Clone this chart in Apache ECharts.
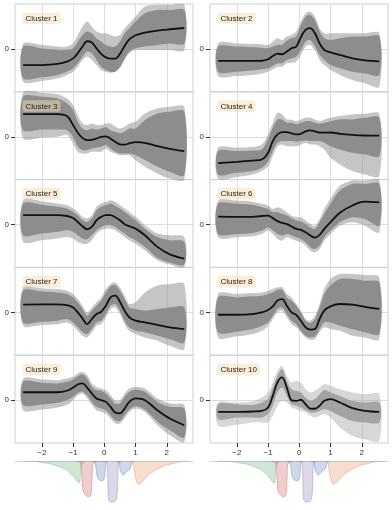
<!DOCTYPE html>
<html>
<head>
<meta charset="utf-8"/>
<title>Clusters</title>
<script src="https://cdn.jsdelivr.net/npm/echarts@6.0.0/dist/echarts.min.js"></script>
<style>
    html, body { margin: 0; padding: 0; background: #fff; }
    #main { width: 392px; height: 510px; }
</style>
</head>
<body>
<div id="main"></div>
<script>
// sample positions along x (shared by every panel)
var xs = [-2.6, -2.0, -1.5, -1.2, -1.0, -0.85, -0.7, -0.55, -0.4, -0.25, -0.1, 0.05, 0.2, 0.35, 0.5, 0.65, 0.8, 1.0, 1.3, 1.7, 2.1, 2.56];
var xTicks = [-2, -1, 0, 1, 2];

// cluster 1
var mean1 = [-0.75,-0.75,-0.70,-0.59,-0.44,-0.20,0.11,0.36,0.30,0.03,-0.23,-0.39,-0.45,-0.45,-0.23,0.14,0.45,0.64,0.76,0.86,0.92,0.98];
var coreHi1 = [0.11,0.03,-0.05,-0.05,0.03,0.34,0.65,0.81,0.73,0.50,0.34,0.19,0.11,0.11,0.34,0.73,0.97,1.28,1.67,1.82,1.82,1.82];
var coreLo1 = [-1.37,-1.32,-1.21,-1.06,-0.90,-0.67,-0.36,-0.12,-0.20,-0.51,-0.83,-0.98,-1.06,-1.06,-0.83,-0.44,-0.12,0.03,0.11,0.19,0.26,0.26];
var outHi1 = [0.23,0.19,0.11,0.11,0.26,0.65,1.04,1.28,1.04,0.81,0.73,0.73,0.65,0.58,0.65,0.97,1.20,1.51,1.98,2.06,2.06,2.06];
var outLo1 = [-1.53,-1.50,-1.37,-1.21,-1.06,-0.83,-0.51,-0.36,-0.51,-0.75,-0.98,-1.06,-1.11,-1.06,-0.90,-0.51,-0.20,-0.05,-0.05,-0.05,-0.05,-0.05];
// cluster 2
var mean2 = [-0.56,-0.56,-0.56,-0.55,-0.48,-0.33,-0.22,-0.25,-0.12,0.03,0.11,0.55,0.89,0.97,0.73,0.26,-0.05,-0.16,-0.28,-0.44,-0.53,-0.58];
var coreHi2 = [0.11,0.11,0.08,0.06,0.03,0.11,0.19,0.19,0.39,0.50,0.58,1.12,1.51,1.59,1.36,0.81,0.50,0.42,0.50,0.58,0.58,0.58];
var coreLo2 = [-1.06,-1.06,-1.01,-0.95,-0.90,-0.79,-0.67,-0.67,-0.51,-0.44,-0.36,-0.05,0.34,0.42,0.11,-0.28,-0.51,-0.75,-0.90,-1.06,-1.14,-1.21];
var outHi2 = [0.26,0.26,0.23,0.22,0.19,0.34,0.50,0.42,0.58,0.65,0.81,1.28,1.67,1.74,1.51,0.97,0.73,0.73,0.73,0.73,0.73,0.73];
var outLo2 = [-1.26,-1.26,-1.21,-1.14,-1.06,-0.95,-0.83,-0.83,-0.67,-0.64,-0.59,-0.28,0.11,0.19,-0.05,-0.51,-0.75,-0.98,-1.21,-1.45,-1.60,-1.76];
// cluster 3
var mean3 = [1.06,1.06,1.06,0.97,0.55,0.19,-0.05,-0.16,-0.14,-0.08,0.00,0.02,-0.09,-0.23,-0.36,-0.37,-0.31,-0.25,-0.28,-0.44,-0.56,-0.67];
var coreHi3 = [1.87,1.87,1.79,1.56,1.25,0.70,0.39,0.31,0.39,0.34,0.39,0.44,0.31,0.23,0.16,0.23,0.39,0.39,0.78,1.09,1.17,1.17];
var coreLo3 = [0.31,0.34,0.34,0.31,0.00,-0.47,-0.62,-0.62,-0.55,-0.50,-0.47,-0.39,-0.55,-0.70,-0.78,-0.78,-0.78,-0.86,-1.09,-1.40,-1.64,-1.79];
var outHi3 = [2.06,2.06,1.99,1.79,1.48,1.01,0.62,0.55,0.62,0.55,0.55,0.62,0.62,0.47,0.39,0.47,0.62,0.70,1.09,1.32,1.40,1.40];
var outLo3 = [-0.08,-0.03,0.00,0.08,-0.31,-0.70,-0.78,-0.78,-0.70,-0.70,-0.70,-0.55,-0.70,-0.78,-0.86,-0.86,-0.86,-1.09,-1.40,-1.71,-1.95,-2.00];
// cluster 4
var mean4 = [-1.23,-1.17,-1.11,-1.06,-0.75,-0.20,0.11,0.22,0.22,0.16,0.11,0.14,0.25,0.30,0.25,0.20,0.19,0.20,0.14,0.09,0.06,0.05];
var coreHi4 = [-0.67,-0.67,-0.64,-0.59,-0.12,0.42,0.81,0.81,0.65,0.65,0.58,0.65,0.73,0.73,0.65,0.61,0.65,0.73,0.81,0.81,0.89,0.89];
var coreLo4 = [-1.76,-1.68,-1.60,-1.45,-1.14,-0.67,-0.28,-0.20,-0.20,-0.20,-0.23,-0.20,-0.17,-0.20,-0.20,-0.20,-0.28,-0.44,-0.59,-0.75,-0.83,-0.90];
var outHi4 = [-0.51,-0.51,-0.48,-0.36,0.11,0.65,1.12,1.04,0.81,0.81,0.73,0.81,0.89,0.89,0.81,0.73,0.81,0.89,0.97,1.04,1.07,1.07];
var outLo4 = [-1.95,-1.88,-1.76,-1.60,-1.37,-0.90,-0.44,-0.36,-0.44,-0.44,-0.44,-0.36,-0.28,-0.36,-0.36,-0.44,-0.59,-0.98,-1.29,-1.60,-1.76,-1.84];
// cluster 5
var mean5 = [0.44,0.44,0.44,0.40,0.31,0.12,-0.08,-0.22,-0.11,0.20,0.36,0.44,0.44,0.34,0.20,0.02,-0.08,-0.19,-0.50,-1.04,-1.39,-1.59];
var coreHi5 = [0.98,0.93,0.83,0.75,0.59,0.44,0.20,0.12,0.28,0.67,0.83,0.90,0.98,0.87,0.75,0.59,0.44,0.20,-0.19,-0.58,-0.73,-0.81];
var coreLo5 = [-0.50,-0.42,-0.34,-0.26,-0.34,-0.50,-0.65,-0.69,-0.50,-0.26,-0.11,-0.03,-0.03,-0.11,-0.26,-0.42,-0.58,-0.73,-1.04,-1.56,-1.78,-1.87];
var outHi5 = [1.14,1.09,0.98,0.90,0.75,0.59,0.36,0.28,0.44,0.83,0.98,1.06,1.14,1.06,0.90,0.75,0.59,0.36,-0.03,-0.42,-0.50,-0.58];
var outLo5 = [-0.81,-0.73,-0.65,-0.58,-0.65,-0.81,-0.89,-0.89,-0.73,-0.42,-0.26,-0.19,-0.19,-0.26,-0.42,-0.58,-0.73,-0.89,-1.20,-1.67,-1.87,-1.98];
// cluster 6
var mean6 = [0.37,0.36,0.36,0.40,0.42,0.30,0.16,0.08,0.02,-0.09,-0.20,-0.25,-0.36,-0.51,-0.61,-0.48,-0.20,0.11,0.55,0.89,1.07,1.04];
var coreHi6 = [0.97,0.97,0.92,0.81,0.73,0.58,0.58,0.50,0.42,0.30,0.19,0.14,0.03,-0.12,-0.20,0.11,0.50,0.97,1.59,1.90,1.90,1.90];
var coreLo6 = [-0.44,-0.44,-0.39,-0.28,-0.12,-0.28,-0.44,-0.51,-0.44,-0.51,-0.59,-0.67,-0.83,-1.06,-1.14,-0.98,-0.59,-0.28,0.11,0.34,0.26,-0.05];
var outHi6 = [1.12,1.12,1.07,0.97,0.89,0.73,0.81,0.73,0.58,0.42,0.34,0.34,0.19,0.03,-0.05,0.26,0.73,1.20,1.82,2.06,2.06,2.06];
var outLo6 = [-0.59,-0.59,-0.55,-0.44,-0.28,-0.44,-0.67,-0.75,-0.59,-0.67,-0.75,-0.83,-0.98,-1.21,-1.29,-1.14,-0.75,-0.44,-0.05,0.11,-0.05,-0.36];
// cluster 7
var mean7 = [0.36,0.37,0.37,0.34,0.23,0.00,-0.28,-0.55,-0.31,-0.08,0.03,0.31,0.70,0.78,0.50,0.08,-0.23,-0.39,-0.47,-0.58,-0.70,-0.78];
var coreHi7 = [1.01,0.97,0.93,0.86,0.70,0.47,0.16,-0.16,0.08,0.31,0.55,0.93,1.21,1.28,1.01,0.62,0.23,0.16,0.08,0.16,0.23,0.23];
var coreLo7 = [-0.47,-0.44,-0.39,-0.31,-0.47,-0.70,-0.93,-1.01,-0.78,-0.47,-0.39,-0.08,0.31,0.39,0.08,-0.39,-0.70,-0.86,-0.93,-1.09,-1.25,-1.40];
var outHi7 = [1.17,1.12,1.09,1.01,0.86,0.62,0.31,0.00,0.23,0.47,0.70,1.09,1.32,1.40,1.17,0.78,0.39,0.47,0.93,1.25,1.32,1.32];
var outLo7 = [-0.62,-0.59,-0.55,-0.47,-0.62,-0.86,-1.09,-1.17,-0.93,-0.62,-0.55,-0.23,0.16,0.23,-0.08,-0.55,-0.86,-1.01,-1.17,-1.32,-1.56,-1.71];
// cluster 8
var mean8 = [-0.11,-0.11,-0.08,0.00,0.11,0.28,0.55,0.62,0.31,0.00,-0.12,-0.39,-0.70,-0.81,-0.78,-0.31,0.08,0.28,0.39,0.36,0.26,0.16];
var coreHi8 = [0.70,0.70,0.75,0.78,0.86,0.93,1.06,1.06,0.70,0.55,0.31,0.00,-0.39,-0.50,-0.31,0.23,0.86,1.25,1.56,1.56,1.48,1.40];
var coreLo8 = [-0.93,-0.90,-0.78,-0.62,-0.47,-0.16,0.16,0.23,-0.08,-0.39,-0.55,-0.86,-1.09,-1.17,-1.12,-0.78,-0.47,-0.47,-0.62,-0.78,-0.93,-1.01];
var outHi8 = [0.86,0.86,0.90,0.93,1.01,1.09,1.17,1.17,0.86,0.70,0.39,0.08,-0.31,-0.39,-0.16,0.39,1.09,1.56,1.79,1.79,1.74,1.64];
var outLo8 = [-1.17,-1.12,-1.01,-0.86,-0.62,-0.31,0.00,0.08,-0.23,-0.55,-0.70,-0.93,-1.17,-1.28,-1.25,-0.93,-0.70,-0.78,-0.86,-1.09,-1.17,-1.25];
// cluster 9
var mean9 = [0.37,0.37,0.37,0.44,0.59,0.73,0.78,0.59,0.31,0.08,0.00,-0.08,-0.31,-0.58,-0.62,-0.39,-0.08,0.08,0.00,-0.47,-0.86,-1.17];
var coreHi9 = [0.86,0.81,0.78,0.86,0.97,1.12,1.21,1.01,0.62,0.47,0.44,0.31,0.08,-0.16,-0.16,0.16,0.39,0.50,0.39,-0.08,-0.31,-0.39];
var coreLo9 = [-0.23,-0.20,-0.12,0.00,0.16,0.34,0.39,0.23,-0.08,-0.31,-0.39,-0.47,-0.70,-0.93,-0.97,-0.70,-0.44,-0.28,-0.44,-1.01,-1.40,-1.74];
var outHi9 = [1.01,0.97,0.93,1.01,1.09,1.25,1.32,1.17,0.78,0.62,0.55,0.47,0.23,0.00,0.00,0.31,0.55,0.62,0.55,0.08,-0.16,-0.23];
var outLo9 = [-0.47,-0.44,-0.34,-0.23,0.00,0.23,0.31,0.08,-0.23,-0.47,-0.55,-0.62,-0.86,-1.09,-1.09,-0.86,-0.55,-0.39,-0.55,-1.17,-1.64,-1.95];
// cluster 10
var mean10 = [-0.55,-0.55,-0.53,-0.50,-0.34,0.20,0.83,1.06,0.59,0.00,-0.03,0.02,-0.19,-0.39,-0.40,-0.26,-0.03,0.05,-0.11,-0.37,-0.50,-0.55];
var coreHi10 = [-0.19,-0.19,-0.22,-0.11,0.05,0.59,1.14,1.45,0.90,0.51,0.44,0.36,0.12,-0.03,0.05,0.28,0.47,0.36,0.20,-0.03,-0.11,-0.11];
var coreLo10 = [-0.89,-0.81,-0.81,-0.81,-0.65,-0.26,0.36,0.59,0.20,-0.19,-0.26,-0.34,-0.47,-0.58,-0.58,-0.50,-0.42,-0.50,-0.73,-0.97,-1.04,-1.04];
var outHi10 = [-0.11,-0.11,-0.06,0.12,0.36,0.83,1.37,1.60,1.14,0.83,0.90,0.83,0.51,0.36,0.44,0.59,0.75,0.67,0.51,0.36,0.28,0.28];
var outLo10 = [-1.20,-1.15,-1.04,-1.04,-1.04,-0.73,-0.26,-0.03,-0.11,-0.34,-0.42,-0.50,-0.58,-0.73,-0.81,-0.73,-0.65,-0.81,-1.28,-1.67,-1.82,-1.90];

// region densities hanging under each column
var greenX = [-2.6,-2.2,-2.0,-1.7,-1.5,-1.3,-1.2,-1.1,-1.0,-0.9,-0.82,-0.78,-0.75,-0.7,-0.6];
var greenD = [0,0.5,1.5,3,5,7.5,9,12,15,19,22,21,6,2,0];
var redX = [-0.9,-0.78,-0.74,-0.72,-0.69,-0.65,-0.6,-0.5,-0.45,-0.41,-0.39,-0.37,-0.3,-0.2];
var redD = [0,1,4,14,28,32,34,36,35,30,15,4,1,0];
var blueX = [-0.4,-0.3,-0.27,-0.24,-0.19,-0.1,-0.02,0.02,0.04,0.06,0.1];
var blueD = [0,2,6,14,18,20,19,14,5,2,0];
var purpleX = [-0.1,0.05,0.09,0.11,0.13,0.2,0.3,0.38,0.42,0.44,0.46,0.55];
var purpleD = [0,1,3,15,38,41,41,39,30,10,3,0];
var blue2X = [0.35,0.45,0.48,0.51,0.55,0.61,0.68,0.74,0.8,0.85,0.88,0.95];
var blue2D = [0,1,3,9,12,14,12,10,9,6,2,0];
var orangeX = [0.8,0.9,0.93,0.96,1.0,1.05,1.1,1.2,1.3,1.45,1.6,1.8,2.0,2.2,2.5,2.7];
var orangeD = [0,1,4,10,17,22,23.5,21,18,13,10,6.5,4,2.5,0.5,0];

var means = [mean1, mean2, mean3, mean4, mean5, mean6, mean7, mean8, mean9, mean10];
var coreLo = [coreLo1, coreLo2, coreLo3, coreLo4, coreLo5, coreLo6, coreLo7, coreLo8, coreLo9, coreLo10];
var coreHi = [coreHi1, coreHi2, coreHi3, coreHi4, coreHi5, coreHi6, coreHi7, coreHi8, coreHi9, coreHi10];
var outLo = [outLo1, outLo2, outLo3, outLo4, outLo5, outLo6, outLo7, outLo8, outLo9, outLo10];
var outHi = [outHi1, outHi2, outHi3, outHi4, outHi5, outHi6, outHi7, outHi8, outHi9, outHi10];

var panelTop = 4, panelH = 87.8, panelW = 178;
var colLeft = [15, 210];

function pairs(x, y) {
    return x.map(function (v, i) { return [v, y[i]]; });
}
function minus(v) {
    return String(v).replace('-', '\u2212');
}

// filled band between lo and hi, drawn as one polygon through the axes
function bandSeries(k, lo, hi, fill, z) {
    return {
        type: 'custom', xAxisIndex: k, yAxisIndex: k, silent: true, z: z,
        data: xs.map(function (x, i) { return [x, lo[i], hi[i]]; }),
        encode: {x: 0, y: [1, 2]},
        renderItem: function (params, api) {
            if (params.dataIndex !== 0) return null;
            var pts = [];
            for (var i = 0; i < xs.length; i++) pts.push(api.coord([xs[i], hi[i]]));
            for (var j = xs.length - 1; j >= 0; j--) pts.push(api.coord([xs[j], lo[j]]));
            return {type: 'polygon', shape: {points: pts, smooth: 0.3}, style: {fill: fill}};
        }
    };
}

var grids = [], xAxes = [], yAxes = [], seriesList = [], titles = [];

for (var k = 0; k < 10; k++) {
    var col = k % 2, row = Math.floor(k / 2);
    var panelY = panelTop + row * panelH;
    var isBottom = row === 4;
    grids.push({
        left: colLeft[col], top: panelY, width: panelW, height: panelH,
        show: true, borderColor: '#cfcfcf', borderWidth: 1
    });
    xAxes.push({
        gridIndex: k, type: 'value', min: -2.86, max: 2.84, position: 'bottom',
        axisLine: {show: false, onZero: false},
        axisTick: {show: isBottom, customValues: xTicks, length: 4, lineStyle: {color: '#333'}},
        axisLabel: {show: isBottom, customValues: xTicks, formatter: minus, fontSize: 8, color: '#333', margin: 6},
        splitLine: {show: true, lineStyle: {color: '#dedede'}}
    });
    yAxes.push({
        gridIndex: k, type: 'value', min: -2, max: 2.1, position: 'left',
        axisLine: {show: false, onZero: false},
        axisTick: {show: true, customValues: [0], length: 4, lineStyle: {color: '#333'}},
        axisLabel: {customValues: [0], fontSize: 8, color: '#333', margin: 6},
        splitLine: {show: true, lineStyle: {color: '#dedede'}}
    });
    var sparse = k === 9;
    // outer fringe of the curve bundle, then its dense core
    seriesList.push(bandSeries(k, outLo[k], outHi[k], sparse ? 'rgba(150,150,150,0.38)' : 'rgba(140,140,140,0.5)', 2));
    seriesList.push(bandSeries(k, coreLo[k], coreHi[k], sparse ? '#a3a3a3' : '#8d8d8d', 3));
    // cluster mean
    seriesList.push({
        type: 'line', xAxisIndex: k, yAxisIndex: k, symbol: 'none', smooth: 0.35,
        data: pairs(xs, means[k]), lineStyle: {color: '#111', width: 1.8}, silent: true, z: 5
    });
    titles.push({
        text: 'Cluster ' + (k + 1),
        left: colLeft[col] + 7.5, top: panelY + 8.5,
        padding: [2, 3, 1.5, 3],
        backgroundColor: 'rgba(245,222,179,0.5)', borderRadius: 2,
        textStyle: {fontSize: 8, lineHeight: 8, fontWeight: 'normal', color: '#222', fontFamily: 'Liberation Sans'}
    });
}

// strips of region densities under both columns
var regions = [
    [greenX, greenD, '#55a868'],
    [redX, redD, '#c44e52'],
    [blueX, blueD, '#4c72b0'],
    [purpleX, purpleD, '#8172b2'],
    [blue2X, blue2D, '#4c72b0'],
    [orangeX, orangeD, '#dd8452']
];
for (var c = 0; c < 2; c++) {
    var g = 10 + c;
    grids.push({left: colLeft[c], top: 461, width: panelW, height: 45});
    xAxes.push({
        gridIndex: g, type: 'value', min: -2.86, max: 2.84, position: 'top',
        axisLine: {show: true, onZero: false, lineStyle: {color: '#d4d4d4'}},
        axisTick: {show: false}, axisLabel: {show: false}, splitLine: {show: false}
    });
    yAxes.push({gridIndex: g, type: 'value', min: 0, max: 45, inverse: true, show: false});
    regions.forEach(function (r) {
        seriesList.push({
            type: 'line', xAxisIndex: g, yAxisIndex: g, symbol: 'none', smooth: 0.2,
            data: pairs(r[0], r[1]),
            lineStyle: {color: r[2], width: 0.8, opacity: 0.45},
            areaStyle: {color: r[2], opacity: 0.28}, silent: true
        });
    });
}

var chart = echarts.init(document.getElementById('main'));
chart.setOption({
    animation: false,
    backgroundColor: '#ffffff',
    textStyle: {fontFamily: 'Liberation Sans'},
    title: titles,
    grid: grids,
    xAxis: xAxes,
    yAxis: yAxes,
    series: seriesList
});
window.onresize = function () {
    chart.resize();
};
</script>
</body>
</html>
